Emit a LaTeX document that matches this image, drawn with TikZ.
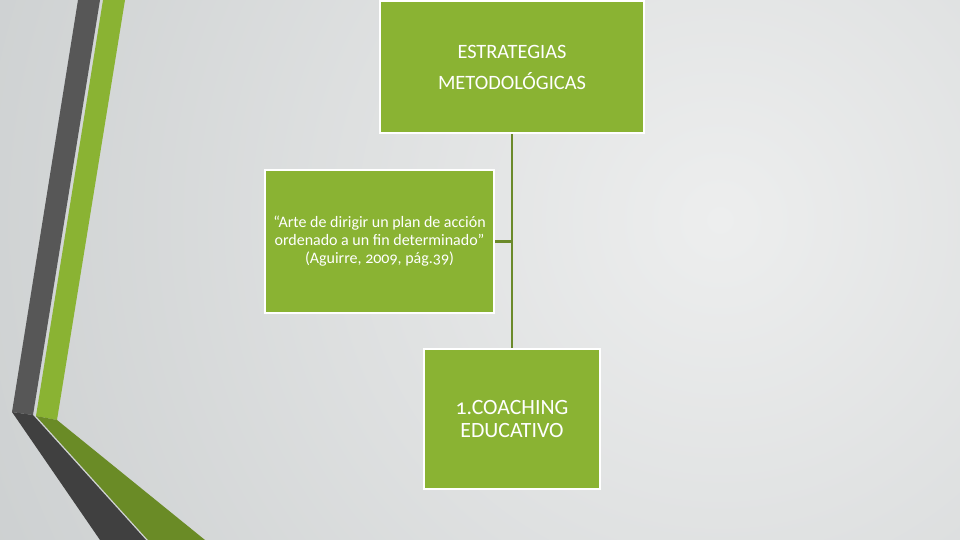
\documentclass[tikz,border=0pt]{standalone}
\usepackage{fontspec}
\setmainfont{Carlito}[Numbers=OldStyle]
\definecolor{boxgreen}{HTML}{8AB333}
\definecolor{linegreen}{HTML}{6B8A2A}
\definecolor{darkgreen}{HTML}{6A8B26}
\definecolor{stripegray}{HTML}{575757}
\definecolor{stripedark}{HTML}{404040}
\definecolor{bgin}{HTML}{EDEEEE}
\definecolor{bgout}{HTML}{C1C5C6}
\tikzset{
  greenbox/.style={draw=white, line width=1.2pt, fill=boxgreen, text=white, align=center, inner sep=0pt},
  connector/.style={draw=linegreen, line width=1.2pt}
}
\begin{document}
\begin{tikzpicture}[x=0.02cm, y=-0.02cm]
\useasboundingbox (0,0) rectangle (960,540);
\begin{scope}
\clip (0,0) rectangle (960,540);
\fill[bgout] (0,0) rectangle (960,540);
\shade[inner color=bgin, outer color=bgout] (720,220) circle[radius=22cm];
\end{scope}
% left decoration
\fill[stripegray] (78,0) -- (100,0) -- (33,415) -- (12,412) -- cycle;
\fill[stripedark] (12,412) -- (33,415) -- (146,540) -- (100,540) -- cycle;
\fill[boxgreen] (103,0) -- (125,0) -- (57,420) -- (36,416) -- cycle;
\fill[darkgreen] (36,416) -- (57,420) -- (205,540) -- (148,540) -- cycle;
% boxes
\node[greenbox, minimum width=5.28cm, minimum height=2.64cm, font=\fontsize{11.6}{17.6}\selectfont] (top) at (512,67) {ESTRATEGIAS\\METODOLÓGICAS};
\node[greenbox, minimum width=4.58cm, minimum height=2.86cm, font=\fontsize{9.1}{10.2}\selectfont] (mid) at (379.5,241.5) {“Arte de dirigir un plan de acción\\ordenado a un fin determinado”\\(Aguirre, 2009, pág.39)};
\node[greenbox, minimum width=3.52cm, minimum height=2.8cm, font=\fontsize{12.4}{13}\selectfont] (bot) at (512,419) {1.COACHING\\EDUCATIVO};
% connectors
\draw[connector] (top.south) -- (bot.north);
\draw[connector] (mid.east) -- (mid.east -| top.south);
\end{tikzpicture}
\end{document}
